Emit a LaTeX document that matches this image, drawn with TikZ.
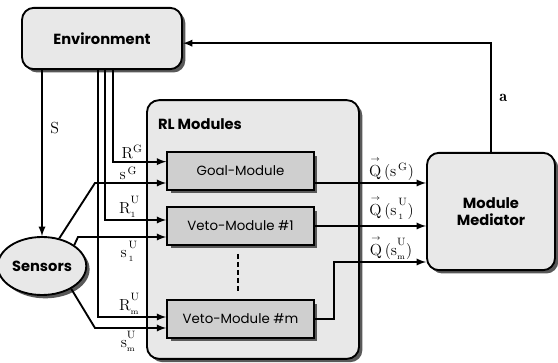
\documentclass[tikz,border=0pt]{standalone}
\usepackage{amsmath}
\usepackage{fontspec}
\newfontfamily\boxfont{Poppins}
\usetikzlibrary{positioning, arrows, shapes.geometric, shadows}
\newcommand{\qvec}{\overset{\scriptscriptstyle\rightarrow}{\mathrm{Q}}}
\newcommand{\upU}{\raisebox{2.5pt}{$\scriptstyle\mathrm{U}$}} % superscript kept clear of the index
\tikzset{
    >=latex, % filled triangle heads
    x=0.75pt, y=-0.75pt, % one unit is one pixel of the original, y runs down
    shade box/.style={drop shadow={shadow xshift=2.5pt, shadow yshift=-2.5pt, fill=black!65, opacity=1}},
    bigbox/.style={draw, line width=1.4pt, rounded corners=9pt, fill=gray!18, shade box}, % outer rounded boxes
    modbox/.style={draw, line width=1.4pt, fill=gray!38, shade box, font=\boxfont\fontsize{10}{12}\selectfont,
        minimum width=110pt, minimum height=28pt}, % the three module boxes
    title/.style={font=\boxfont\bfseries\fontsize{11}{13}\selectfont, align=center},
    sig/.style={->, line width=1.4pt}, % signal lines
    lbl/.style={font=\fontsize{12}{12}\selectfont, inner sep=1.5pt},
}

\begin{document}
\begin{tikzpicture}
    \useasboundingbox (0,0) rectangle (558,363);
    % boxes
    \node[bigbox, title, minimum width=120pt, minimum height=46pt] (env) at (102,38.5) {Environment};
    \node[bigbox, minimum width=159pt, minimum height=194pt] (rl) at (253,229.5) {};
    \node[title] (rltitle) at (200,124) {RL Modules};
    \node[modbox] (goal) at (240.5,171) {Goal-Module};
    \node[modbox] (veto1) at (240.5,226) {Veto-Module \#1};
    \node[modbox] (vetom) at (240.5,319) {Veto-Module \#m};
    \node[bigbox, title, minimum width=96pt, minimum height=88pt] (med) at (491,211.5) {Module\\Mediator};
    \node[ellipse, draw, line width=1.4pt, fill=gray!18, shade box, title, inner sep=1pt,
        minimum width=54pt, minimum height=43.5pt] (sens) at (42,266) {Sensors};
    \draw[line width=1.8pt, dash pattern=on 3.5pt off 2.5pt] (238,254) -- (238,293);

    % helper points for the bends
    \coordinate (xr1) at (113,0);
    \coordinate (xr2) at (105,0);
    \coordinate (xr3) at (98,0);
    \coordinate (bg) at (95,183);
    \coordinate (b1) at (78,237);
    \coordinate (bm) at (95,328);
    \coordinate (qm) at (334,262);

    % sensing and rewards
    \draw[sig] (env.south -| sens.north) -- (sens.north) node[lbl, pos=0.35, right=4pt] {$\mathrm{S}$};
    \draw[sig] (env.south -| xr1) |- ([yshift=7pt]goal.west) node[lbl, pos=0.68, above] {$\mathrm{R}^{\mathrm{G}}$};
    \draw[sig] (env.south -| xr2) |- ([yshift=4.5pt]veto1.west) node[lbl, pos=0.7, above] {$\mathrm{R}_{\scriptscriptstyle 1}^{\upU}$};
    \draw[sig] (env.south -| xr3) |- ([yshift=1.5pt]vetom.west) node[lbl, pos=0.73, above] {$\mathrm{R}_{\scriptscriptstyle\mathrm{m}}^{\upU}$};
    \draw[sig] (sens.58) -- (bg) -- (bg -| goal.west) node[lbl, pos=0.47, above] {$\mathrm{s}^{\,\mathrm{G}}$};
    \draw[sig] (sens.33) -- (b1) -- (b1 -| veto1.west) node[lbl, pos=0.58, below=1pt] {$\mathrm{s}_{\,\scriptscriptstyle 1}^{\,\upU}$};
    \draw[sig] (sens.-38) -- (bm) -- (bm -| vetom.west) node[lbl, pos=0.47, below] {$\mathrm{s}_{\scriptscriptstyle\mathrm{m}}^{\upU}$};

    % Q-values to the mediator
    \draw[sig] ([yshift=-9pt]goal.east) -- ([yshift=-9pt]goal.east -| med.west)
        node[lbl, pos=0.69, above] {$\qvec\,(\mathrm{s}^{\,\mathrm{G}})$};
    \draw[sig] (veto1.east) -- (veto1.east -| med.west)
        node[lbl, pos=0.69, above=3pt] {$\qvec\,(\mathrm{s}_{\,\scriptscriptstyle 1}^{\,\upU})$};
    \draw[sig] (vetom.east) -| (qm) -- (qm -| med.west)
        node[lbl, pos=0.62, above] {$\qvec\,(\mathrm{s}_{\scriptscriptstyle\mathrm{m}}^{\upU})$};

    % action back to the environment
    \draw[sig] (med.north) |- ([yshift=-3.5pt]env.east) node[lbl, pos=0.25, right=4pt] {$\mathbf{a}$};
\end{tikzpicture}
\end{document}
